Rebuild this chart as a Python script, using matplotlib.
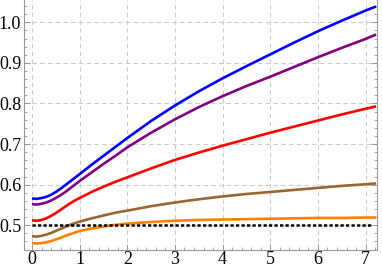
import matplotlib
matplotlib.use("Agg")
import matplotlib.pyplot as plt
from matplotlib.ticker import MultipleLocator

## values
t = [0, 0.1, 0.2, 0.3, 0.4, 0.5, 0.6, 0.7, 0.8, 0.9, 1, 1.25, 1.5, 1.75, 2, 2.5, 3,
     3.5, 4, 4.5, 5, 5.5, 6, 6.5, 7, 7.22]
blue = [0.566, 0.565, 0.567, 0.570, 0.575, 0.582, 0.590, 0.599, 0.608, 0.617, 0.626,
        0.649, 0.671, 0.693, 0.715, 0.757, 0.795,
        0.830, 0.862, 0.892, 0.921, 0.950, 0.978, 1.004, 1.029, 1.039]
purple = [0.552, 0.551, 0.553, 0.556, 0.561, 0.567, 0.574, 0.582, 0.591, 0.600, 0.609,
          0.630, 0.651, 0.671, 0.692, 0.728, 0.761,
          0.791, 0.818, 0.843, 0.866, 0.890, 0.914, 0.937, 0.959, 0.970]
red = [0.512, 0.511, 0.513, 0.517, 0.523, 0.530, 0.538, 0.546, 0.554, 0.561, 0.567,
       0.582, 0.595, 0.607, 0.618, 0.640, 0.661,
       0.679, 0.696, 0.712, 0.728, 0.743, 0.758, 0.773, 0.787, 0.793]
brown = [0.473, 0.472, 0.474, 0.477, 0.481, 0.486, 0.491, 0.496, 0.501, 0.505, 0.509,
         0.517, 0.524, 0.531, 0.536, 0.547, 0.556,
         0.564, 0.571, 0.577, 0.582, 0.587, 0.592, 0.597, 0.601, 0.603]
orange = [0.456, 0.455, 0.456, 0.458, 0.461, 0.465, 0.469, 0.474, 0.478, 0.482, 0.486,
          0.492, 0.497, 0.501, 0.504, 0.508, 0.511,
          0.513, 0.514, 0.515, 0.516, 0.517, 0.518, 0.518, 0.519, 0.519]
ref_x = [0, 7.12]
ref_y = [0.5, 0.5]

xticks = [0, 1, 2, 3, 4, 5, 6, 7]
yticks = [0.5, 0.6, 0.7, 0.8, 0.9, 1.0]
ylabels = ["0.5", "0.6", "0.7", "0.8", "0.9", "1.0"]

plt.rcParams["font.family"] = ["Liberation Serif", "DejaVu Serif"]

fig = plt.figure(figsize=(3.82, 2.70), dpi=100)
ax = fig.add_axes([24 / 382, 20 / 270, 353 / 382, 250 / 270])

ax.plot(t, blue, color=(0, 0, 1), lw=1.9, solid_capstyle="butt")
ax.plot(t, purple, color=(0.5, 0, 0.5), lw=1.9, solid_capstyle="butt")
ax.plot(t, red, color=(1, 0, 0), lw=1.9, solid_capstyle="butt")
ax.plot(t, brown, color=(0.6, 0.4, 0.2), lw=1.9, solid_capstyle="butt")
ax.plot(t, orange, color=(1, 0.5, 0), lw=1.9, solid_capstyle="butt")
ax.plot(ref_x, ref_y, color="black", lw=1.8, linestyle=(0, (1.3, 0.9)), dash_capstyle="butt")

ax.set_xlim(-0.168, 7.24)
ax.set_ylim(0.439, 1.055)

ax.set_xticks(xticks)
ax.set_yticks(yticks)
ax.set_yticklabels(ylabels)
ax.xaxis.set_minor_locator(MultipleLocator(0.2))
ax.yaxis.set_minor_locator(MultipleLocator(0.02))

ax.grid(True, which="major", color="#cccccc", linestyle=(0, (4, 3)), lw=0.8)
ax.set_axisbelow(True)

for s in ["left", "bottom", "right"]:
    ax.spines[s].set_color("#999999")
    ax.spines[s].set_linewidth(0.8)
ax.spines["top"].set_visible(False)

ax.tick_params(which="both", direction="in", color="#999999", right=True, top=False,
               labelsize=13, labelcolor="black")
ax.tick_params(which="major", length=4, width=0.7)
ax.tick_params(which="minor", length=2.2, width=0.6)
ax.tick_params(axis="y", pad=2)
ax.tick_params(axis="x", pad=1)

fig.savefig("out.png", dpi=100)
